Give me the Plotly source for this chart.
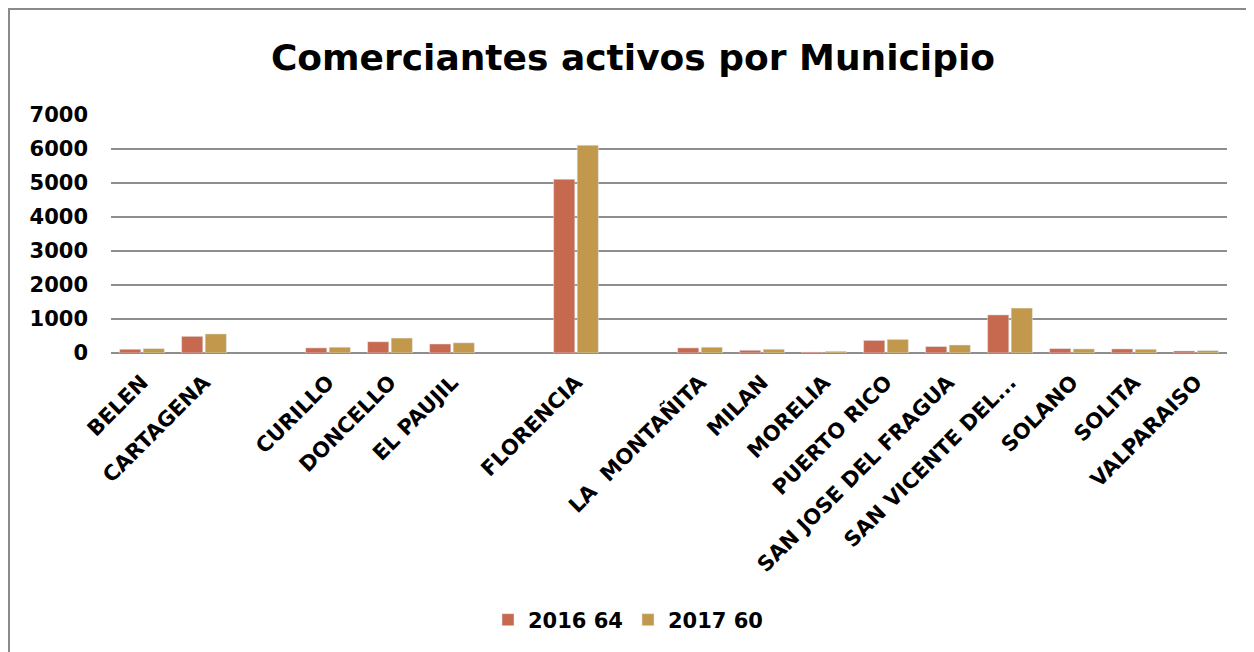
import plotly.graph_objects as go

municipios = ["BELEN", "CARTAGENA", "", "CURILLO", "DONCELLO", "EL PAUJIL", "",
              "FLORENCIA", "", "LA  MONTAÑITA", "MILAN", "MORELIA", "PUERTO RICO",
              "SAN JOSE DEL FRAGUA", "SAN VICENTE DEL...", "SOLANO", "SOLITA", "VALPARAISO"]
valores_2016 = [110, 490, None, 150, 330, 265, None, 5110, None, 150, 80, 30, 370, 190, 1120, 130, 120, 60]
valores_2017 = [130, 560, None, 170, 440, 300, None, 6110, None, 170, 110, 50, 400, 235, 1320, 120, 110, 70]
y_ticks = [0, 1000, 2000, 3000, 4000, 5000, 6000, 7000]

posiciones = list(range(len(municipios)))

C2016 = "#C6694F"
C2017 = "#C1984C"

# page body adds an 8px margin; work in screen coordinates and subtract it
OFF = 8
W, H = 1254 - OFF, 652 - OFF
L, R, T, B = 111 - OFF, 27, 115 - OFF, 299
pw, ph = W - L - R, H - T - B

def px(x):
    return (x - OFF - L) / pw

def py(y):
    return (H - B - (y - OFF)) / ph

fig = go.Figure()
fig.add_trace(go.Bar(x=posiciones, y=valores_2016, name="2016 64", marker=dict(color=C2016)))
fig.add_trace(go.Bar(x=posiciones, y=valores_2017, name="2017 60", marker=dict(color=C2017)))

fig.update_layout(
    width=W, height=H,
    margin=dict(l=L, r=R, t=T, b=B),
    paper_bgcolor="white", plot_bgcolor="white",
    barmode="group", bargap=0.24, bargroupgap=0.1,
    title=dict(text="<b>Comerciantes activos por Municipio</b>",
               x=(633 - OFF) / W, xanchor="center", y=1 - (57 - OFF) / H, yanchor="middle",
               font=dict(family="DejaVu Sans", size=36, color="black")),
    font=dict(family="DejaVu Sans", color="black"),
    legend=dict(orientation="h", x=px(628), xanchor="center", y=py(620), yanchor="middle",
                font=dict(family="DejaVu Sans", size=21, color="black", weight="bold"),
                itemwidth=30, traceorder="normal", bgcolor="rgba(0,0,0,0)"),
    xaxis=dict(tickmode="array", tickvals=posiciones, ticktext=municipios,
               range=[-0.5, len(municipios) - 0.5], tickangle=-45,
               tickfont=dict(family="DejaVu Sans", size=21, color="black", weight="bold"),
               showgrid=False, showline=False, zeroline=False, ticks="",
               ticklabelstandoff=12),
    yaxis=dict(range=[0, 7000], tickvals=y_ticks, showgrid=True,
               gridcolor="#8E8E8E", gridwidth=2, zeroline=True, zerolinecolor="#8E8E8E",
               zerolinewidth=2, showline=False, ticks="",
               tickfont=dict(family="DejaVu Sans", size=21, color="black", weight="bold"),
               ticklabelstandoff=22),
    shapes=[
        dict(type="line", xref="paper", yref="paper", x0=px(8.5), x1=px(1254), y0=py(9), y1=py(9),
             line=dict(color="#8A8A8A", width=2)),
        dict(type="line", xref="paper", yref="paper", x0=px(9), x1=px(9), y0=py(8), y1=py(652),
             line=dict(color="#8A8A8A", width=2)),
    ],
)

fig.write_html("out.html")
